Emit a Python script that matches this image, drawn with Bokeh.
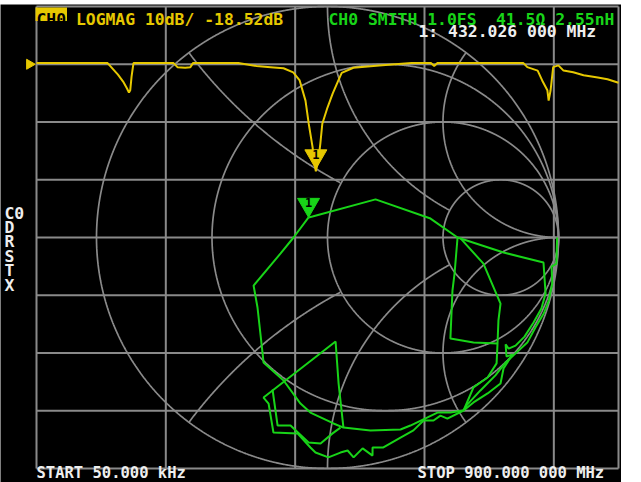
import numpy as np
from bokeh.plotting import figure
from bokeh.models import Range1d
from bokeh.core.properties import value
from bokeh.embed import file_html
from bokeh.resources import INLINE

# ---------------- data ----------------
START_MHZ = 0.05
STOP_MHZ = 900.0
GRID_FREQS_MHZ = [200, 400, 600, 800]
DB_TOP, DB_BOTTOM = 10, -70
DB_LINES = [10, 0, -10, -20, -30, -40, -50, -60, -70]
REF_LEVEL_DB = 0

LOGMAG_FREQ_MHZ = [0.05, 110, 118, 126, 134, 140, 143, 145, 147, 150,
                   212, 218, 230, 238, 242, 312, 340, 362, 382, 397,
                   407, 416, 421, 427, 429, 432.026, 436, 439, 442, 450,
                   458, 466, 472, 490, 530, 580, 610, 615, 620, 753,
                   759, 775, 782, 790, 792, 795, 799, 807, 815, 830,
                   846, 868, 883, 900]
LOGMAG_DB = [0.2, 0.2, -0.8, -1.8, -3.0, -4.2, -4.9, -4.5, -2.2, 0.2,
             0.2, -0.5, -0.6, -0.5, 0.2, 0.2, -0.3, -0.5, -0.7, -1.4,
             -2.8, -6.3, -10.3, -14.4, -16.7, -18.52, -16.5, -13.7, -10.3, -7.5,
             -5.1, -3.0, -1.5, -0.6, -0.2, 0.2, 0.2, -0.3, 0.2, 0.2,
             -0.5, -1.1, -2.8, -4.5, -6.3, -4.5, -0.5, -0.2, -1.1, -1.4,
             -1.9, -2.3, -2.6, -3.2]

MARKER_FREQ_MHZ = 432.026
MARKER_DB = -18.52
MARKER_GAMMA_RE = -0.082
MARKER_GAMMA_IM = 0.087

# Smith trace (reflection coefficient), drawn as strands
SMITH_RE = [
    [-0.082, -0.065, 0.208, 0.446, 0.563, 0.762, 0.935, 0.944, 0.926, 0.892,
     0.853, 0.814, 0.784, 0.771, 0.775, 0.801, 0.762, 0.749, 0.693, 0.632, 0.589],
    [0.994, 0.991, 0.970, 0.973, 0.958, 0.936, 0.900, 0.865, 0.818, 0.771,
     0.727, 0.662, 0.602, 0.589],
    [0.563, 0.550, 0.541, 0.532, 0.632, 0.736],
    [0.576, 0.675, 0.749, 0.740, 0.736, 0.732, 0.693, 0.632, 0.589],
    [0.589, 0.532, 0.476, 0.433, 0.359, 0.316, 0.186, 0.069, 0.026, -0.074,
     -0.117, -0.190, -0.277, -0.281, -0.303, -0.320, -0.203, -0.147, -0.082],
    [0.589, 0.519, 0.489, 0.459, 0.416, 0.372, 0.316, 0.242, 0.195, 0.195,
     0.152, 0.113, 0.087, 0.056, 0.004, -0.052, -0.074, -0.130, -0.234, -0.255,
     -0.277, 0.035, 0.048, 0.069],
    [-0.238, -0.216, -0.160, -0.082, -0.030, 0.022, 0.056],
]
SMITH_IM = [
    [0.087, 0.091, 0.165, 0.082, 0.000, -0.065, -0.108, -0.242, -0.307, -0.368,
     -0.429, -0.468, -0.481, -0.463, -0.515, -0.506, -0.567, -0.632, -0.675, -0.714, -0.749],
    [0.000, -0.113, -0.126, -0.199, -0.273, -0.329, -0.390, -0.455, -0.498, -0.541,
     -0.597, -0.662, -0.727, -0.749],
    [0.000, -0.156, -0.229, -0.437, -0.455, -0.459],
    [-0.004, -0.113, -0.286, -0.359, -0.459, -0.545, -0.606, -0.649, -0.749],
    [-0.749, -0.758, -0.758, -0.779, -0.814, -0.831, -0.835, -0.823, -0.805, -0.758,
     -0.719, -0.619, -0.541, -0.502, -0.303, -0.208, -0.069, 0.000, 0.087],
    [-0.749, -0.784, -0.771, -0.792, -0.792, -0.835, -0.866, -0.909, -0.909, -0.944,
     -0.913, -0.952, -0.922, -0.931, -0.952, -0.931, -0.909, -0.848, -0.844, -0.719,
     -0.693, -0.450, -0.632, -0.823],
    [-0.658, -0.814, -0.814, -0.887, -0.892, -0.848, -0.823],
]

TITLE_CH = "CH0"
TITLE_LOGMAG = "LOGMAG 10dB/ -18.52dB"
TITLE_SMITH = "CH0 SMITH 1.0FS"
TITLE_SMITH_VAL = "41.5\u03a9 2.55nH"
MARKER_TEXT = "1: 432.026 000 MHz"
START_TEXT = "START 50.000 kHz"
STOP_TEXT = "STOP 900.000 000 MHz"
SIDE_LABELS = ["C0", "D", "R", "S", "T", "X"]

# ---------------- screen layout (reference pixels) ----------------
W, H = 621, 482
TOP_WHITE = 4
PX_X0, PX_X1 = 0.0, 621.0
PX_Y0, PX_Y1 = 482.0, 4.0
GRID_L, GRID_R, GRID_T, GRID_B = 36.0, 618.0, 6.0, 468.0
SM_CX, SM_CY, SM_R = 327.0, 237.0, 231.0

YELLOW = "#e6c800"
GREEN = "#18d418"
GRAY = "#8a8a8a"
WHITE = "#eeeeee"
FONT = value("DejaVu Sans Mono")
CHAR_W = 9.85


def f_of(px):
    return START_MHZ + (px - GRID_L) * (STOP_MHZ - START_MHZ) / (GRID_R - GRID_L)


def db_of(py):
    return DB_TOP - (py - GRID_T) * (DB_TOP - DB_BOTTOM) / (GRID_B - GRID_T)


p = figure(width=W, height=H, output_backend="svg", toolbar_location=None,
           x_range=Range1d(PX_X0, PX_X1), y_range=Range1d(PX_Y0, PX_Y1),
           x_axis_location=None, y_axis_location=None,
           background_fill_color="black", border_fill_color="white",
           min_border=0, min_border_top=TOP_WHITE, outline_line_color=None)
p.grid.visible = False
p.extra_x_ranges = {"freq": Range1d(f_of(PX_X0), f_of(PX_X1)),
                    "gx": Range1d((PX_X0 - SM_CX) / SM_R, (PX_X1 - SM_CX) / SM_R)}
p.extra_y_ranges = {"db": Range1d(db_of(PX_Y0), db_of(PX_Y1)),
                    "gy": Range1d((SM_CY - PX_Y0) / SM_R, (SM_CY - PX_Y1) / SM_R)}

# ---- rectangular graticule ----
vx = [START_MHZ] + GRID_FREQS_MHZ + [STOP_MHZ]
p.segment(x0=vx, x1=vx, y0=[DB_BOTTOM] * len(vx), y1=[DB_TOP] * len(vx),
          x_range_name="freq", y_range_name="db", line_color=GRAY, line_width=2)
p.segment(x0=[START_MHZ] * len(DB_LINES), x1=[STOP_MHZ] * len(DB_LINES),
          y0=DB_LINES, y1=DB_LINES,
          x_range_name="freq", y_range_name="db", line_color=GRAY, line_width=2)


# ---- Smith chart grid (NanoVNA style clipping) ----
def arc_runs(cx, cy, r, keep):
    t = np.linspace(0, 2 * np.pi, 2401)[:-1]
    u = cx + r * np.cos(t)
    v = cy + r * np.sin(t)
    m = keep(u, v)
    if m.all():
        return [(list(np.append(u, u[0])), list(np.append(v, v[0])))]
    if not m.any():
        return []
    k = int(np.argmin(m))
    u, v, m = np.roll(u, -k), np.roll(v, -k), np.roll(m, -k)
    runs, i, n = [], 0, len(m)
    while i < n:
        if m[i]:
            j = i
            while j < n and m[j]:
                j += 1
            runs.append((list(u[i:j]), list(v[i:j])))
            i = j
        else:
            i += 1
    return runs


inside = lambda u, v: u * u + v * v <= 1.0
out_r3 = lambda u, v: np.hypot(u - 0.75, v) >= 0.25
out_r1 = lambda u, v: np.hypot(u - 0.5, v) >= 0.5

circles = [
    (0.0, 0.0, 1.0, lambda u, v: np.ones_like(u, dtype=bool)),
    (1.0, 0.5, 0.5, inside), (1.0, -0.5, 0.5, inside),
    (0.75, 0.0, 0.25, inside),
    (1.0, 1.0, 1.0, lambda u, v: inside(u, v) & out_r3(u, v)),
    (1.0, -1.0, 1.0, lambda u, v: inside(u, v) & out_r3(u, v)),
    (0.5, 0.0, 0.5, lambda u, v: inside(u, v) & out_r3(u, v)),
    (1.0, 2.0, 2.0, lambda u, v: inside(u, v) & out_r1(u, v)),
    (1.0, -2.0, 2.0, lambda u, v: inside(u, v) & out_r1(u, v)),
    (0.25, 0.0, 0.75, lambda u, v: inside(u, v) & out_r1(u, v)),
]
axs, ays = [], []
for cx, cy, r, keep in circles:
    for xs, ys in arc_runs(cx, cy, r, keep):
        axs.append(xs)
        ays.append(ys)
p.multi_line(xs=axs, ys=ays, x_range_name="gx", y_range_name="gy",
             line_color=GRAY, line_width=1.7)

# ---- traces ----
p.multi_line(xs=SMITH_RE, ys=SMITH_IM, x_range_name="gx", y_range_name="gy",
             line_color=GREEN, line_width=2)
p.line(LOGMAG_FREQ_MHZ, LOGMAG_DB, x_range_name="freq", y_range_name="db",
       line_color=YELLOW, line_width=2)

# ---- markers ----
LIFT_DB = 2.6
LIFT_G = 0.055
p.scatter([MARKER_FREQ_MHZ], [MARKER_DB + LIFT_DB], marker="inverted_triangle", size=22,
          x_range_name="freq", y_range_name="db", fill_color=YELLOW, line_color=YELLOW)
p.text([MARKER_FREQ_MHZ], [MARKER_DB + LIFT_DB], text=["1"], x_range_name="freq", y_range_name="db",
       text_align="center", text_baseline="middle", text_font=FONT, text_font_style="bold",
       text_font_size="12px", text_color="black", y_offset=-2)
p.scatter([MARKER_GAMMA_RE], [MARKER_GAMMA_IM + LIFT_G], marker="inverted_triangle", size=22,
          x_range_name="gx", y_range_name="gy", fill_color=GREEN, line_color=GREEN)
p.text([MARKER_GAMMA_RE], [MARKER_GAMMA_IM + LIFT_G], text=["1"], x_range_name="gx", y_range_name="gy",
       text_align="center", text_baseline="middle", text_font=FONT, text_font_style="bold",
       text_font_size="12px", text_color="black", y_offset=-2)
# reference level pointer
p.scatter([29], [REF_LEVEL_DB], y_range_name="db", marker="triangle", angle=-np.pi / 2,
          size=10, fill_color=YELLOW, line_color=YELLOW)

# ---- texts ----
p.quad(left=[35], right=[66.5], top=[7], bottom=[20.5], fill_color=YELLOW, line_color=None)
common = dict(text_font=FONT, text_font_size="16.4px", text_baseline="alphabetic",
              text_font_style="bold")
p.text([36], [18.5], text=[TITLE_CH], text_color="black", **common)
p.text([36 + 4 * CHAR_W], [18.5], text=[TITLE_LOGMAG], text_color=YELLOW, **common)
p.text([328], [18.5], text=[TITLE_SMITH], text_color=GREEN, **common)
p.text([328 + 17 * CHAR_W], [18.5], text=[TITLE_SMITH_VAL], text_color=GREEN, **common)
p.text([418], [31], text=[MARKER_TEXT], text_color=WHITE, **common)
bottom = dict(text_font=FONT, text_font_size="15.5px", text_baseline="bottom",
              text_font_style="bold")
p.text([36], [481.5], text=[START_TEXT], text_color=WHITE, **bottom)
p.text([417], [481.5], text=[STOP_TEXT], text_color=WHITE, **bottom)
p.text([4] * len(SIDE_LABELS), [213, 227, 241, 256, 270, 285], text=SIDE_LABELS,
       text_color=WHITE, **common)

open("out.html", "w").write(file_html(p, INLINE))
